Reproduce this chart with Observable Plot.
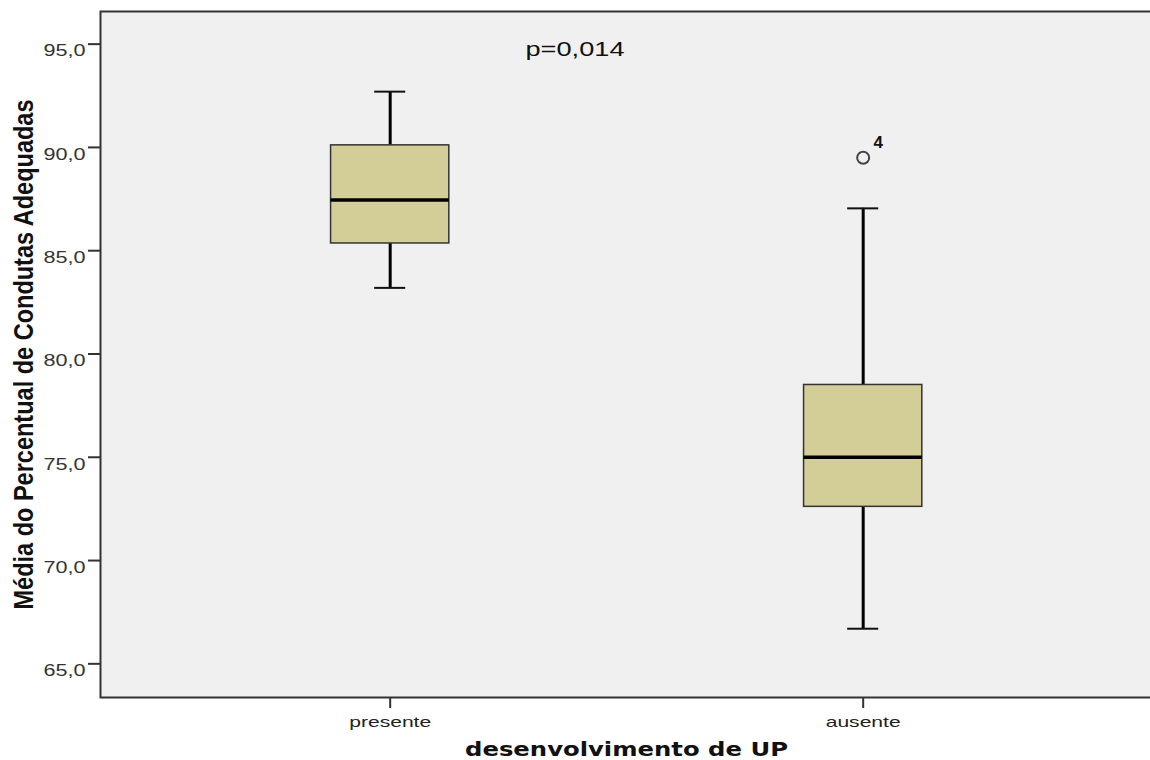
<!DOCTYPE html>
<html><head><meta charset="utf-8">
<script src="https://cdn.jsdelivr.net/npm/d3@7"></script>
<script src="https://cdn.jsdelivr.net/npm/@observablehq/plot@0.6"></script>
<style>html,body{margin:0;padding:0;background:#fff;overflow:hidden}</style>
</head><body><div id="chart"></div>
<script>
const categories = ["presente", "ausente"];
const whiskerLow = [83.2, 66.7];
const q1 = [85.35, 72.6];
const median = [87.45, 75.0];
const q3 = [90.1, 78.5];
const whiskerHigh = [92.7, 87.05];
const outlierGroup = ["ausente"];
const outlierValue = [89.5];
const outlierLabel = ["4"];
const yTicks = [65, 70, 75, 80, 85, 90, 95];
const yDomain = [63.37, 96.58];
const pValueText = "p=0,014";
const xTitle = "desenvolvimento de UP";
const yTitle = "Média do Percentual de Condutas Adequadas";

const boxes = categories.map((c, i) => ({group: c, low: whiskerLow[i], q1: q1[i], median: median[i], q3: q3[i], high: whiskerHigh[i]}));
const outliers = outlierGroup.map((g, i) => ({group: g, value: outlierValue[i], label: outlierLabel[i]}));
const fmt = d => d.toFixed(1).replace(".", ",");

const chart = Plot.plot({
  width: 1150, height: 760,
  marginLeft: 100, marginRight: -6, marginTop: 11, marginBottom: 63,
  style: {background: "white", color: "#222", fontFamily: "'Liberation Sans', Arial, sans-serif", overflow: "hidden"},
  x: {type: "band", domain: categories, paddingInner: 0.75, paddingOuter: 0.4913, align: 0.4961, round: false, tickSize: 11, tickPadding: 8, label: null},
  y: {domain: yDomain, ticks: yTicks, tickFormat: fmt, tickSize: 12, tickPadding: 3, label: null},
  marks: [
    Plot.frame({fill: "#f0f0f0", stroke: "none"}),
    Plot.ruleX(boxes, {x: "group", y1: "low", y2: "q1", stroke: "#000", strokeWidth: 3}),
    Plot.ruleX(boxes, {x: "group", y1: "q3", y2: "high", stroke: "#000", strokeWidth: 3}),
    Plot.tickY(boxes, {x: "group", y: "low", stroke: "#111", strokeWidth: 2, insetLeft: 43.6, insetRight: 43.6}),
    Plot.tickY(boxes, {x: "group", y: "high", stroke: "#111", strokeWidth: 2, insetLeft: 43.6, insetRight: 43.6}),
    Plot.barY(boxes, {x: "group", y1: "q1", y2: "q3", fill: "#d3ce98", stroke: "#333", strokeWidth: 1.5}),
    Plot.tickY(boxes, {x: "group", y: "median", stroke: "#000", strokeWidth: 3.5}),
    Plot.dot(outliers, {x: "group", y: "value", r: 6, stroke: "#444", strokeWidth: 2, fill: "none"}),
    Plot.text(outliers, {x: "group", y: "value", text: "label", dx: 15, dy: -15, fontSize: 17, fontWeight: 600, fill: "#111"}),
    Plot.text([pValueText], {x: null, y: null, text: d => d, frameAnchor: "top", textAnchor: "middle", lineAnchor: "middle", dx: -53.5, dy: 38.5, fontSize: 20, fill: "#111"}),
    Plot.text([xTitle], {x: null, y: null, text: d => d, frameAnchor: "bottom", textAnchor: "middle", lineAnchor: "middle", dx: -2, dy: 52.6, fontSize: 19, fontWeight: "bold", fontFamily: "'DejaVu Sans', sans-serif", fill: "#111"}),
    Plot.text([yTitle], {x: null, y: null, text: d => d, frameAnchor: "left", textAnchor: "middle", lineAnchor: "middle", rotate: -90, dx: -76, fontSize: 28, fontWeight: "bold", fill: "#111"}),
    Plot.frame({stroke: "#333", strokeWidth: 2})
  ]
});

// text styling to match the reference's stretched rendering
const specs = {
  "presente": {len: 82, size: 15, fill: "#222"},
  "ausente": {len: 75, size: 15, fill: "#222"},
  [pValueText]: {len: 99},
  [xTitle]: {len: 323},
  [yTitle]: {len: 510}
};
d3.select(chart).selectAll("text").each(function () {
  const t = this.textContent;
  let s = specs[t];
  if (!s && /^\d\d,0$/.test(t)) { s = {len: 42, size: 16, fill: "#333"}; this.setAttribute("dy", "0.45em"); }
  if (!s) return;
  if (s.size) this.setAttribute("font-size", s.size);
  if (s.fill) this.setAttribute("fill", s.fill);
  this.setAttribute("textLength", s.len);
  this.setAttribute("lengthAdjust", "spacingAndGlyphs");
});
d3.select(chart)
  .selectAll('g[aria-label^="y-axis"] line, g[aria-label^="y-axis tick"] path, g[aria-label^="x-axis"] line, g[aria-label^="x-axis tick"] path')
  .attr("stroke-width", 2).attr("stroke", "#333");

document.getElementById("chart").append(chart);
</script>
</body></html>
